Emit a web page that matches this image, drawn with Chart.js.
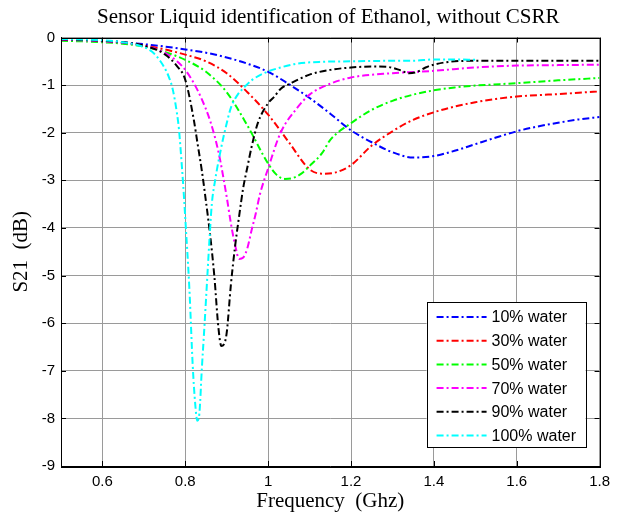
<!DOCTYPE html>
<html><head><meta charset="utf-8">
<script src="https://cdn.jsdelivr.net/npm/chart.js@4.4.1/dist/chart.umd.min.js"></script>
<style>html,body{margin:0;padding:0;background:#fff;} canvas{display:block;}</style>
</head><body>
<canvas id="c" width="617" height="519"></canvas>
<script>
const titleText = 'Sensor Liquid identification of Ethanol, without CSRR';
const xTitle = 'Frequency  (Ghz)';
const yTitle = 'S21  (dB)';
const xTicks = [0.6, 0.8, 1.0, 1.2, 1.4, 1.6, 1.8];
const xTickLabels = ['0.6', '0.8', '1', '1.2', '1.4', '1.6', '1.8'];
const yTicks = [-9, -8, -7, -6, -5, -4, -3, -2, -1, 0];
const yTickLabels = ['-9', '-8', '-7', '-6', '-5', '-4', '-3', '-2', '-1', '0'];
const seriesLabels = ['10% water', '30% water', '50% water', '70% water', '90% water', '100% water'];

const w10Freq = [0.5,0.55,0.6,0.65,0.7,0.75,0.8,0.85,0.9,0.95,1.0,1.05,1.1,1.15,1.2,1.25,1.3,1.35,1.4,1.45,1.5,1.55,1.6,1.65,1.7,1.75,1.8];
const w10S21  = [-0.04,-0.05,-0.07,-0.1,-0.14,-0.19,-0.25,-0.32,-0.42,-0.55,-0.72,-0.98,-1.27,-1.6,-1.95,-2.2,-2.41,-2.52,-2.49,-2.38,-2.24,-2.1,-1.97,-1.87,-1.79,-1.72,-1.67];

const w30Freq = [0.5,0.55,0.6,0.65,0.7,0.75,0.8,0.85,0.9,0.95,1.0,1.05,1.1,1.13,1.16,1.2,1.25,1.3,1.35,1.4,1.45,1.5,1.55,1.6,1.65,1.7,1.75,1.8];
const w30S21  = [-0.05,-0.06,-0.08,-0.12,-0.17,-0.25,-0.36,-0.5,-0.75,-1.15,-1.62,-2.2,-2.77,-2.86,-2.84,-2.68,-2.27,-1.97,-1.73,-1.57,-1.45,-1.36,-1.29,-1.24,-1.21,-1.19,-1.16,-1.13];

const w50Freq = [0.5,0.55,0.6,0.65,0.7,0.75,0.8,0.85,0.9,0.95,1.0,1.02,1.04,1.06,1.08,1.1,1.13,1.15,1.2,1.25,1.3,1.35,1.4,1.45,1.5,1.6,1.7,1.8];
const w50S21  = [-0.07,-0.08,-0.1,-0.13,-0.19,-0.3,-0.47,-0.72,-1.15,-1.85,-2.65,-2.88,-2.97,-2.95,-2.86,-2.7,-2.43,-2.15,-1.8,-1.52,-1.33,-1.2,-1.11,-1.05,-1.01,-0.96,-0.9,-0.85];

const w70Freq = [0.5,0.55,0.6,0.65,0.7,0.75,0.78,0.8,0.82,0.84,0.86,0.88,0.9,0.91,0.92,0.93,0.94,0.95,0.96,0.97,0.98,1.0,1.03,1.07,1.1,1.15,1.2,1.3,1.4,1.5,1.6,1.7,1.8];
const w70S21  = [-0.05,-0.06,-0.08,-0.11,-0.17,-0.32,-0.5,-0.68,-0.95,-1.3,-1.75,-2.4,-3.35,-3.9,-4.35,-4.65,-4.62,-4.42,-4.05,-3.7,-3.3,-2.75,-2.0,-1.48,-1.2,-0.97,-0.84,-0.75,-0.7,-0.63,-0.59,-0.58,-0.57];

const w90Freq = [0.5,0.55,0.6,0.65,0.7,0.75,0.78,0.8,0.82,0.83,0.84,0.85,0.86,0.87,0.88,0.887,0.893,0.9,0.91,0.92,0.93,0.94,0.95,0.96,0.975,1.0,1.015,1.03,1.055,1.1,1.15,1.2,1.25,1.29,1.32,1.34,1.36,1.38,1.4,1.45,1.5,1.6,1.7,1.8];
const w90S21  = [-0.04,-0.05,-0.07,-0.1,-0.17,-0.35,-0.6,-0.89,-1.7,-2.25,-2.8,-3.45,-4.15,-5.0,-6.1,-6.48,-6.45,-6.2,-5.2,-4.4,-3.75,-3.15,-2.72,-2.3,-1.8,-1.38,-1.24,-1.08,-0.96,-0.78,-0.68,-0.63,-0.61,-0.62,-0.69,-0.75,-0.72,-0.63,-0.57,-0.5,-0.49,-0.49,-0.49,-0.49];

const w100Freq = [0.5,0.55,0.6,0.65,0.7,0.72,0.74,0.76,0.77,0.78,0.785,0.79,0.795,0.8,0.81,0.818,0.824,0.829,0.834,0.84,0.846,0.852,0.858,0.864,0.872,0.887,0.9,0.911,0.925,0.944,0.96,0.99,1.03,1.07,1.13,1.2,1.3,1.35,1.4,1.45,1.5];
const w100S21  = [-0.03,-0.04,-0.06,-0.1,-0.2,-0.3,-0.5,-0.82,-1.1,-1.6,-1.95,-2.5,-3.1,-3.8,-5.3,-6.9,-7.7,-8.05,-7.9,-6.95,-6.1,-5.2,-4.3,-3.5,-3.0,-2.3,-1.8,-1.45,-1.22,-1.03,-0.9,-0.75,-0.63,-0.55,-0.51,-0.5,-0.49,-0.49,-0.46,-0.46,-0.47];

const seriesFreq = [w10Freq, w30Freq, w50Freq, w70Freq, w90Freq, w100Freq];
const seriesS21 = [w10S21, w30S21, w50S21, w70S21, w90S21, w100S21];
const lineColors = ['#0000ff', '#ff0000', '#00ff00', '#ff00ff', '#000000', '#00ffff'];
const DASH = [7, 3, 2, 3];

const datasets = seriesLabels.map((lab, i) => ({
  label: lab,
  data: seriesFreq[i].map((f, k) => ({x: f, y: seriesS21[i][k]})),
  borderColor: lineColors[i],
  backgroundColor: lineColors[i],
  borderWidth: 2,
  borderDash: DASH,
  pointRadius: 0,
  fill: false,
  cubicInterpolationMode: 'monotone',
  order: seriesLabels.length - i
}));

const SANS = '"Liberation Sans", Arial, sans-serif';
const SERIF = '"Liberation Serif", "Times New Roman", serif';

const framePlugin = {
  id: 'frame',
  afterDraw(chart) {
    const {ctx, chartArea: a, scales} = chart;
    ctx.save();
    // title
    ctx.fillStyle = '#000';
    ctx.font = '21px ' + SERIF;
    ctx.textAlign = 'center';
    ctx.textBaseline = 'alphabetic';
    ctx.fillText(titleText, (a.left + a.right) / 2 - 2, 22.7);

    ctx.strokeStyle = '#000';
    ctx.lineWidth = 1;
    // inner tick marks
    ctx.beginPath();
    xTicks.forEach(v => {
      const px = Math.round(scales.x.getPixelForValue(v)) + 0.5;
      ctx.moveTo(px, a.bottom); ctx.lineTo(px, a.bottom - 5);
      ctx.moveTo(px, a.top); ctx.lineTo(px, a.top + 5);
    });
    yTicks.forEach(v => {
      const py = Math.round(scales.y.getPixelForValue(v)) + 0.5;
      ctx.moveTo(a.left, py); ctx.lineTo(a.left + 5, py);
      ctx.moveTo(a.right, py); ctx.lineTo(a.right - 5, py);
    });
    ctx.stroke();
    // box
    ctx.strokeRect(Math.round(a.left) + 0.5, Math.round(a.top) + 0.5, Math.round(a.right - a.left), Math.round(a.bottom - a.top));
    // legend
    const lx = a.right - 173, ly = a.bottom - 164, lw = 159, lh = 145;
    ctx.fillStyle = '#fff';
    ctx.fillRect(lx, ly, lw, lh);
    ctx.strokeRect(Math.round(lx) + 0.5, Math.round(ly) + 0.5, lw, lh);
    ctx.font = '16px ' + SANS;
    ctx.textBaseline = 'middle';
    ctx.textAlign = 'left';
    chart.data.datasets.forEach((ds, i) => {
      const y = ly + 15 + i * 23.7;
      ctx.save();
      ctx.strokeStyle = ds.borderColor;
      ctx.lineWidth = 2;
      ctx.setLineDash(DASH);
      ctx.beginPath();
      ctx.moveTo(lx + 10, y); ctx.lineTo(lx + 60, y);
      ctx.stroke();
      ctx.restore();
      ctx.fillStyle = '#000';
      ctx.fillText(ds.label, lx + 65, y + 1);
    });
    ctx.restore();
  }
};

new Chart(document.getElementById('c'), {
  type: 'line',
  data: {datasets},
  options: {
    responsive: false,
    animation: false,
    devicePixelRatio: 1,
    layout: {padding: {left: 0, right: 12, top: 37.5, bottom: 5}},
    plugins: {
      legend: {display: false},
      tooltip: {enabled: false},
      title: {display: false}
    },
    scales: {
      x: {
        type: 'linear', min: 0.5, max: 1.8,
        afterFit(s) { s.height = 48; },
        afterBuildTicks(s) { s.ticks = xTicks.map(v => ({value: v})); },
        grid: {color: '#9a9a9a', lineWidth: 1, drawTicks: false},
        border: {display: true, color: '#000', width: 1},
        ticks: {
          color: '#000', font: {family: SANS, size: 15}, padding: 7,
          maxRotation: 0, autoSkip: false,
          callback: (v, i) => xTickLabels[i]
        },
        title: {display: true, text: xTitle, color: '#000', font: {family: SERIF, size: 21}, padding: {top: 0, bottom: 0}}
      },
      y: {
        type: 'linear', min: -9, max: 0,
        afterFit(s) { s.width = 61; },
        afterBuildTicks(s) { s.ticks = yTicks.map(v => ({value: v})); },
        grid: {color: '#9a9a9a', lineWidth: 1, drawTicks: false},
        border: {display: true, color: '#000', width: 1},
        ticks: {
          color: '#000', font: {family: SANS, size: 15}, padding: 6,
          autoSkip: false,
          callback: (v, i) => yTickLabels[i]
        },
        title: {display: true, text: yTitle, color: '#000', font: {family: SERIF, size: 21}, padding: {top: 9, bottom: 0}}
      }
    }
  },
  plugins: [framePlugin]
});
</script>
</body></html>
